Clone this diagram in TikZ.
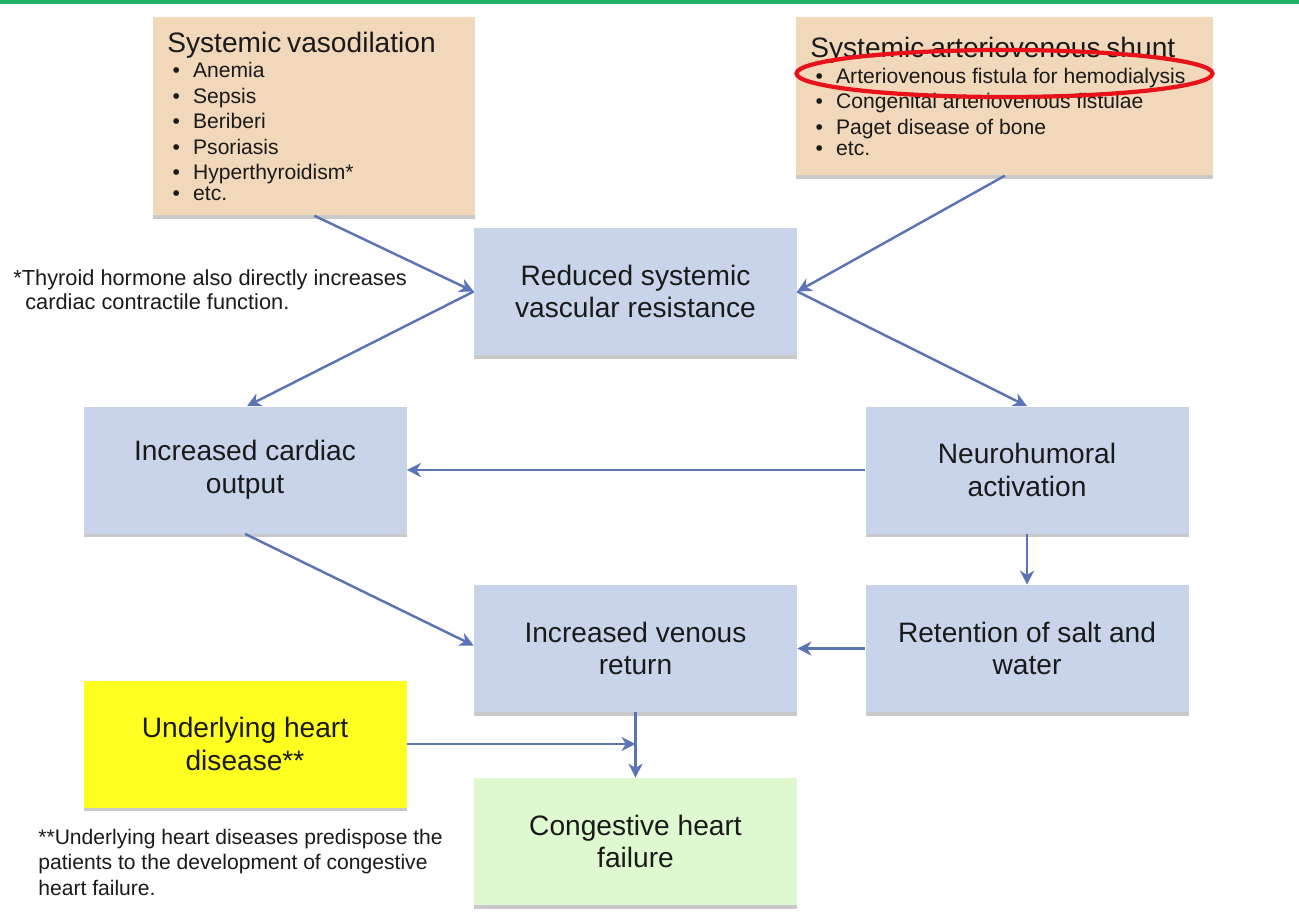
\documentclass[tikz,border=0pt]{standalone}
\usepackage{fontspec}
\setmainfont{Liberation Sans}
\usetikzlibrary{arrows.meta,shapes.geometric,shadows}
\definecolor{flowblue}{HTML}{C9D4EA}
\definecolor{causetan}{HTML}{F2D8BA}
\definecolor{riskyellow}{HTML}{FFFF22}
\definecolor{endgreen}{HTML}{DEF9D0}
\definecolor{arrowblue}{HTML}{5A74B6}
\definecolor{markred}{HTML}{E8121A}
\definecolor{topgreen}{HTML}{1FB26B}
\definecolor{inktext}{HTML}{1A1A1A}
\newcommand{\bigtxt}{\fontsize{16}{18.7}\selectfont}
\newcommand{\smalltxt}{\fontsize{12}{14.5}\selectfont}
\newcommand{\itm}[1]{\hspace*{3pt}\textbullet\hspace{7.5pt}#1}

\begin{document}
\begin{tikzpicture}[
  flowbox/.style={fill=#1,minimum width=6.46cm,minimum height=2.54cm,
    align=center,font=\bigtxt,text=inktext,inner sep=0pt,
    drop shadow={shadow xshift=0pt,shadow yshift=-2pt,opacity=0.3,fill=black!70}},
  flowbox/.default=flowblue,
  listbox/.style={fill=causetan,align=left,text=inktext,inner xsep=0.28cm,
    inner ysep=0pt,anchor=north west,
    drop shadow={shadow xshift=0pt,shadow yshift=-2pt,opacity=0.3,fill=black!70}},
  note/.style={align=left,text=inktext,inner sep=0pt,anchor=west},
  link/.style={arrowblue,line width=1.4pt,-{Stealth[length=8pt,width=8pt,inset=2.5pt]}}
]
  \useasboundingbox (0,0) rectangle (25.98,-18.38);
  \fill[topgreen] (0,0) rectangle (25.98,-0.07);

  % causes
  \node[listbox,text width=5.88cm,minimum height=3.96cm] (vaso) at (3.06,-0.34)
    {{\bigtxt Systemic vasodilation\par}\smalltxt
     \itm{Anemia}\\ \itm{Sepsis}\\ \itm{Beriberi}\\ \itm{Psoriasis}\\
     \itm{Hyperthyroidism*}\\ \itm{etc.}};
  \node[listbox,text width=7.78cm,minimum height=3.16cm] (shunt) at (15.92,-0.34)
    {{\bigtxt Systemic arteriovenous shunt\par}\smalltxt
     \itm{Arteriovenous fistula for hemodialysis}\\
     \itm{Congenital arteriovenous fistulae}\\
     \itm{Paget disease of bone}\\ \itm{etc.}};
  \node[ellipse,draw=markred,line width=2.4pt,minimum width=8.32cm,
    minimum height=0.94cm] (ring) at (20.09,-1.47) {};

  % chain
  \node[flowbox] (reduced) at (12.71,-5.83) {Reduced systemic\\vascular resistance};
  \node[flowbox] (cardiac) at (4.9,-9.4) {Increased cardiac\\output};
  \node[flowbox] (neuro) at (20.54,-9.4) {Neurohumoral\\activation};
  \node[flowbox] (venous) at (12.71,-12.97) {Increased venous\\return};
  \node[flowbox] (retain) at (20.54,-12.97) {Retention of salt and\\water};
  \node[flowbox=riskyellow] (heart) at (4.9,-14.88) {Underlying heart\\disease**};
  \node[flowbox=endgreen] (chf) at (12.71,-16.83) {Congestive heart\\failure};

  \node[note,font=\fontsize{12.4}{13.6}\selectfont] (thyroid) at (0.26,-5.8)
    {*Thyroid hormone also directly increases\\\hspace*{0.55em}cardiac contractile function.};
  \node[note,font=\smalltxt] (predispose) at (0.76,-17.24)
    {**Underlying heart diseases predispose the\\patients to the development of congestive\\heart failure.};

  \draw[link] (vaso.south) -- (reduced.west);
  \draw[link] (shunt.south) -- (reduced.east);
  \draw[link] (reduced.west) -- ([xshift=0.04cm]cardiac.north);
  \draw[link] (reduced.east) -- (neuro.north);
  \draw[link] (neuro.west) -- (cardiac.east);
  \draw[link] (neuro.south) -- (retain.north);
  \draw[link] (cardiac.south) -- ([yshift=0.06cm]venous.west);
  \draw[link] (retain.west) -- (venous.east);
  \draw[link] (venous.south) -- (chf.north);
  \coordinate (join) at (venous.south |- heart.east);
  \draw[link] (heart.east) -- (join);
\end{tikzpicture}
\end{document}
